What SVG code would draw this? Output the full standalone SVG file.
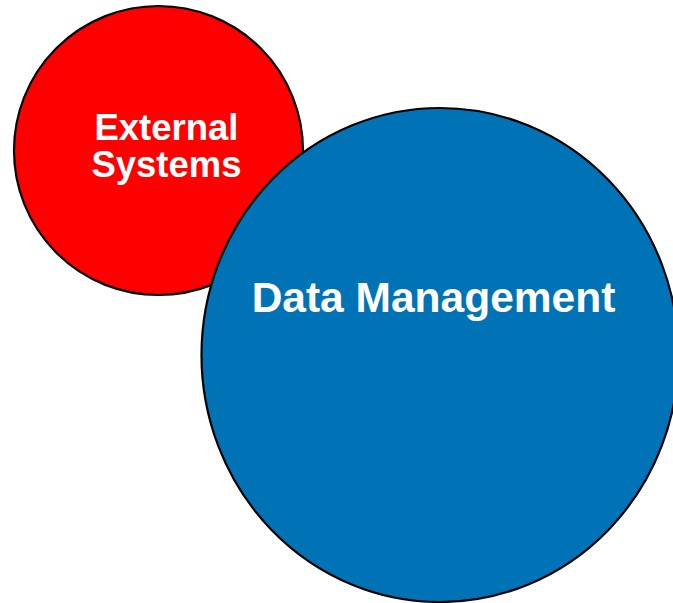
<svg xmlns="http://www.w3.org/2000/svg" width="673" height="603" viewBox="0 0 673 603">
<style>
.node{stroke:#000;stroke-width:2.2}
.lbl{font-family:"Liberation Sans",Arial,sans-serif;font-weight:bold;fill:#fff;text-anchor:middle}
</style>
<rect width="673" height="603" fill="#fff"/>
<g id="external-systems">
<circle class="node" cx="158.5" cy="150.5" r="144.5" fill="#ff0000"/>
<text class="lbl" x="166.5" y="140" font-size="36.5">External</text>
<text class="lbl" x="166.5" y="177" font-size="36.5">Systems</text>
</g>
<g id="data-management">
<ellipse class="node" cx="440" cy="355" rx="238.5" ry="247" fill="#0073b7"/>
<text class="lbl" x="433.5" y="312" font-size="42.5">Data Management</text>
</g>
<g id="connectors"/>
</svg>
